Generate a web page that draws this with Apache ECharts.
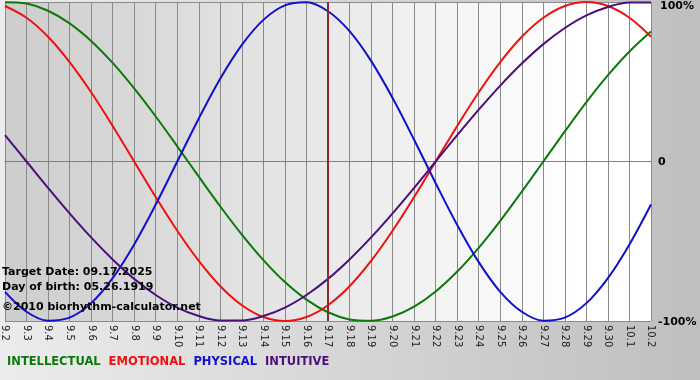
<!DOCTYPE html>
<html>
<head>
<meta charset="utf-8">
<script src="https://cdn.jsdelivr.net/npm/echarts@6/dist/echarts.min.js"></script>
<style>
html,body{margin:0;padding:0;}
#chart{width:700px;height:380px;}
</style>
</head>
<body>
<div id="chart"></div>
<script>
var days = ['9.2','9.3','9.4','9.5','9.6','9.7','9.8','9.9','9.10','9.11','9.12','9.13','9.14','9.15','9.16','9.17','9.18','9.19','9.20','9.21','9.22','9.23','9.24','9.25','9.26','9.27','9.28','9.29','9.30','10.1','10.2'];
var intellectual = [99.9,99.0,94.5,86.6,75.6,61.8,45.8,28.2,9.5,-9.5,-28.2,-45.8,-61.8,-75.6,-86.6,-94.5,-99.0,-99.9,-97.2,-91.0,-81.5,-69.0,-54.1,-37.2,-18.9,0,18.9,37.2,54.1,69.0,81.5];
var emotional = [97.5,90.1,78.2,62.3,43.4,22.3,0,-22.3,-43.4,-62.3,-78.2,-90.1,-97.5,-100,-97.5,-90.1,-78.2,-62.3,-43.4,-22.3,0,22.3,43.4,62.3,78.2,90.1,97.5,100,97.5,90.1,78.2];
var physical = [-81.7,-94.2,-99.8,-97.9,-88.8,-73.1,-52.0,-27.0,0,27.0,52.0,73.1,88.8,97.9,99.8,94.2,81.7,63.1,39.8,13.6,-13.6,-39.8,-63.1,-81.7,-94.2,-99.8,-97.9,-88.8,-73.1,-52.0,-27.0];
var intuitive = [16.5,0,-16.5,-32.5,-47.6,-61.4,-73.6,-83.7,-91.6,-96.9,-99.7,-99.7,-96.9,-91.6,-83.7,-73.6,-61.4,-47.6,-32.5,-16.5,0,16.5,32.5,47.6,61.4,73.6,83.7,91.6,96.9,99.7,99.7];
var yTicks = {'100':'100%','0':'0','-100':'-100%'};
var targetDay = '9.17';
var infoLines = ['Target Date: 09.17.2025','Day of birth: 05.26.1919','\u00a92010 biorhythm-calculator.net'];

var FONT = '"DejaVu Sans", Verdana, sans-serif';
var chart = echarts.init(document.getElementById('chart'), null, {renderer:'canvas'});

function line(name, data, color){
  return {
    name: name, type: 'line', data: data, smooth: 0.35, symbol: 'none',
    lineStyle: {color: color, width: 2}, itemStyle: {color: color}, z: 3
  };
}

var option = {
  animation: false,
  backgroundColor: {type:'linear', x:0, y:0, x2:1, y2:0, colorStops:[{offset:0,color:'#ececec'},{offset:1,color:'#bfbfbf'}]},
  grid: {
    left: 0, right: 49, top: 2, bottom: 59, show: true, borderWidth: 0,
    backgroundColor: {type:'linear', x:0, y:0, x2:1, y2:0, colorStops:[{offset:0,color:'#cdcdcd'},{offset:0.88,color:'#ffffff'},{offset:1,color:'#ffffff'}]}
  },
  legend: {
    left: 2, top: 356, padding: 0, icon: 'none', itemWidth: 0, itemHeight: 0, itemGap: 3,
    textStyle: {fontFamily: FONT, fontWeight: 'bold', fontSize: 11.5, padding: 0},
    data: [
      {name:'INTELLECTUAL', textStyle:{color:'#0a7a0a'}},
      {name:'EMOTIONAL', textStyle:{color:'#ee1111'}},
      {name:'PHYSICAL', textStyle:{color:'#1111cc'}},
      {name:'INTUITIVE', textStyle:{color:'#4b0f7a'}}
    ],
    selectedMode: false
  },
  xAxis: {
    type: 'category', data: days, boundaryGap: false,
    axisLine: {show: true, lineStyle: {color: '#808080', width: 1}},
    axisTick: {show: true, length: 3, lineStyle: {color: '#808080'}},
    splitLine: {show: true, lineStyle: {color: '#8a8a8a', width: 1}},
    axisLabel: {interval: 0, rotate: -90, fontFamily: FONT, fontSize: 10, color: '#222', margin: 4}
  },
  yAxis: {
    type: 'value', min: -100, max: 100, interval: 100, position: 'right',
    axisLine: {show: false}, axisTick: {show: false},
    splitLine: {show: true, lineStyle: {color: '#8a8a8a', width: 1}},
    axisLabel: {
      margin: 7, color: '#000', fontFamily: FONT, fontWeight: 'bold', fontSize: 11,
      formatter: function(v){
        var t = yTicks[String(v)];
        if (v === 100) return '{a|' + t + '}';
        if (v === 0) return '{b|' + t + '}';
        return '{c|' + t + '}';
      },
      rich: {
        a: {padding: [9,0,0,2], fontFamily: FONT, fontWeight: 'bold', fontSize: 11, color: '#000'},
        b: {padding: [2,0,0,0], fontFamily: FONT, fontWeight: 'bold', fontSize: 11, color: '#000'},
        c: {padding: [3,0,0,0], fontFamily: FONT, fontWeight: 'bold', fontSize: 11, color: '#000'}
      }
    }
  },
  series: [
    line('INTELLECTUAL', intellectual, '#0a7a0a'),
    line('EMOTIONAL', emotional, '#ee1111'),
    line('PHYSICAL', physical, '#1111cc'),
    line('INTUITIVE', intuitive, '#4b0f7a'),
    {
      name: 'target', type: 'line', data: [], z: 5,
      markLine: {
        silent: true, symbol: 'none', label: {show: false},
        lineStyle: {color: '#8b2a2a', width: 2, type: 'solid'},
        data: [{xAxis: targetDay}]
      }
    }
  ],
  graphic: [
    {type:'text', left: 2, top: 267, z: 10, style:{text: infoLines[0], font: 'bold 11px ' + FONT, fill: '#000'}},
    {type:'text', left: 2, top: 282, z: 10, style:{text: infoLines[1], font: 'bold 11px ' + FONT, fill: '#000'}},
    {type:'text', left: 2, top: 302, z: 10, style:{text: infoLines[2], font: 'bold 11px ' + FONT, fill: '#000'}}
  ]
};
chart.setOption(option);
</script>
</body>
</html>
